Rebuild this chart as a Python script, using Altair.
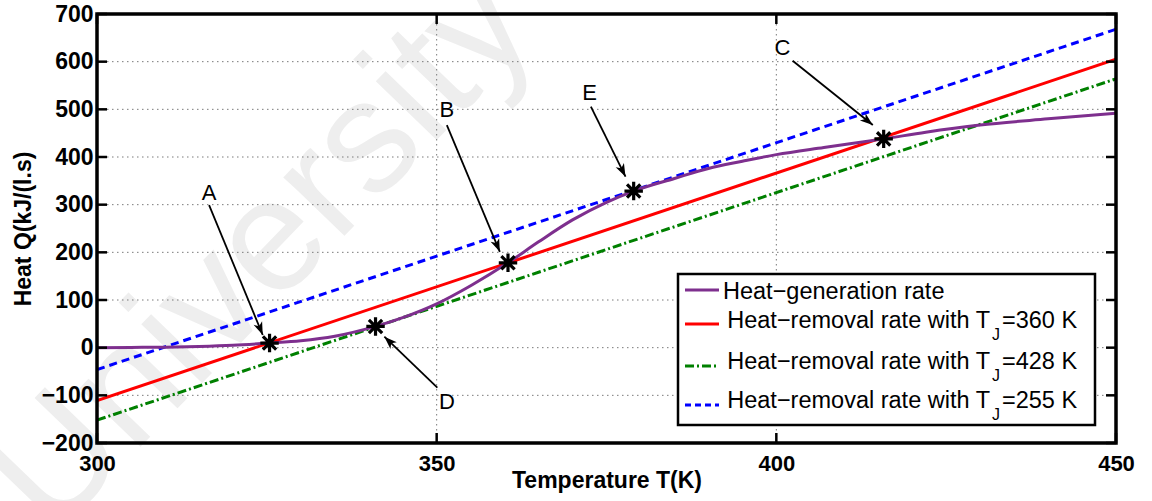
import math
import altair as alt
import pandas as pd

# ---------------- data ----------------
x_ticks = [300, 350, 400, 450]
y_ticks = [-200, -100, 0, 100, 200, 300, 400, 500, 600, 700]

# heat-generation curve (purple)
T_gen = [300, 305, 310, 315, 320, 325.4, 330, 335, 341, 345, 350, 355, 360.5,
         365, 370, 375, 379, 385, 390, 395, 400, 407, 415.8, 422, 430, 440, 450]
Q_gen = [0, 0.5, 1, 2.5, 5, 9.7, 14.5, 24, 44.6, 63, 92, 130, 178,
         222, 268, 305, 328.5, 355, 376, 391, 405, 420, 438, 452, 467, 480, 492]

# heat-removal lines (end points at T=300 and T=450)
T_line = [300, 450]
Q_red = [-111, 605]     # TJ = 360 K
Q_green = [-152, 564]   # TJ = 428 K
Q_blue = [-46, 668]     # TJ = 255 K

# steady states (asterisks)
star_T = [325.4, 360.5, 415.8, 341, 379]
star_Q = [9.7, 178, 438, 44.6, 328.5]

# annotation letters and arrows
lab_text = ["A", "B", "C", "D", "E"]
lab_T = [316.5, 351.5, 400.9, 351.5, 372.5]
lab_Q = [325, 498, 628, -113, 534]
arr_T1 = [316.5, 351.5, 402.4, 350.1, 372.7]
arr_Q1 = [299, 467, 602, -84, 505.5]
arr_T2 = [324.4, 359.3, 414.2, 342.3, 377.8]
arr_Q2 = [26.6, 201, 467, 23, 358.7]

legend_main = ["Heat\u2212generation rate",
               "Heat\u2212removal rate with T",
               "Heat\u2212removal rate with T",
               "Heat\u2212removal rate with T"]
legend_sub = ["", "J", "J", "J"]
legend_tail = ["", "=360 K", "=428 K", "=255 K"]

# ---------------- layout / style ----------------
W, H = 1019, 429
FONT = "Liberation Sans, Arial, sans-serif"
PURPLE, RED, GREEN, BLUE = "#7E2F8E", "#FF0000", "#008000", "#0000FF"
GRID = "#7a7a7a"

xs = alt.Scale(domain=[300, 450], nice=False, zero=False)
ys = alt.Scale(domain=[-200, 700], nice=False, zero=False)

ax_x = alt.Axis(values=x_ticks, title="Temperature T(K)", grid=False,
                tickSize=0, domain=False, format="d", zindex=1,
                labelFont=FONT, labelFontSize=22, labelFontWeight="bold",
                labelColor="black", labelPadding=10, labelFlush=False,
                labelOverlap=False,
                titleFont=FONT, titleFontSize=23, titleFontWeight="bold",
                titleColor="black", titleBaseline="alphabetic", titleY=44)
ax_y = alt.Axis(values=y_ticks, title="Heat Q(kJ/(l.s)", grid=False,
                tickSize=0, domain=False, format="d", zindex=1,
                labelFont=FONT, labelFontSize=23, labelFontWeight="bold",
                labelColor="black", labelPadding=4, labelFlush=False,
                labelOverlap=False,
                titleFont=FONT, titleFontSize=23, titleFontWeight="bold",
                titleColor="black", titleBaseline="alphabetic",
                titleAngle=270, titleX=-67)

X = lambda f: alt.X(f, type="quantitative", scale=xs, axis=ax_x)
Y = lambda f: alt.Y(f, type="quantitative", scale=ys, axis=ax_y)

one = alt.Data(values=[{"k": 0}])


def vtext(txt, x, y, size, align="left", weight="normal", color="black"):
    return alt.Chart(one).mark_text(
        text=txt, align=align, baseline="alphabetic", fontSize=size,
        font=FONT, color=color, fontWeight=weight
    ).encode(x=alt.value(x), y=alt.value(y))


layers = []

# watermark (behind everything)
layers.append(
    alt.Chart(one).mark_text(text="University", align="center", baseline="middle",
                             fontSize=160, font=FONT, color="#eeeeee",
                             angle=314, clip=False)
    .encode(x=alt.value(165), y=alt.value(238))
)

# dotted grid
yt = pd.DataFrame({"Q": y_ticks})
xt = pd.DataFrame({"T": x_ticks})
layers.append(alt.Chart(yt).mark_rule(color=GRID, strokeWidth=1, strokeDash=[1.5, 3.5])
              .encode(y=Y("Q"), x=alt.value(0), x2=alt.value(W)))
layers.append(alt.Chart(xt).mark_rule(color=GRID, strokeWidth=1, strokeDash=[1.5, 3.5])
              .encode(x=X("T"), y=alt.value(0), y2=alt.value(H)))

# heat-removal lines
for q, col, dash in [(Q_green, GREEN, [9, 3, 2, 3]),
                     (Q_blue, BLUE, [8, 5]),
                     (Q_red, RED, None)]:
    d = pd.DataFrame({"T": T_line, "Q": q})
    kw = dict(color=col, strokeWidth=3, clip=True)
    if dash:
        kw["strokeDash"] = dash
    layers.append(alt.Chart(d).mark_line(**kw).encode(x=X("T"), y=Y("Q")))

# heat-generation curve
gen = pd.DataFrame({"T": T_gen, "Q": Q_gen})
layers.append(alt.Chart(gen).mark_line(color=PURPLE, strokeWidth=3,
                                       interpolate="monotone", clip=True)
              .encode(x=X("T"), y=Y("Q")))

# asterisks
STAR = "M-1,0L1,0M0,-1L0,1M-0.72,-0.72L0.72,0.72M-0.72,0.72L0.72,-0.72"
stars = pd.DataFrame({"T": star_T, "Q": star_Q})
layers.append(alt.Chart(stars).mark_point(shape=STAR, filled=False, color="black",
                                          strokeWidth=3.2, size=340, opacity=1)
              .encode(x=X("T"), y=Y("Q")))

# arrows
sx, sy = W / 150.0, H / 900.0
arr = pd.DataFrame({"T": arr_T1, "Q": arr_Q1, "T2": arr_T2, "Q2": arr_Q2})
arr["ang"] = [
    (math.degrees(math.atan2((t2 - t1) * sx, (q2 - q1) * sy)) + 360) % 360
    for t1, q1, t2, q2 in zip(arr_T1, arr_Q1, arr_T2, arr_Q2)
]
layers.append(alt.Chart(arr).mark_rule(color="black", strokeWidth=1.8)
              .encode(x=X("T"), y=Y("Q"), x2="T2", y2="Q2"))
HEAD = "M0,0L-0.75,2.1L0,1.55L0.75,2.1Z"
layers.append(alt.Chart(arr).mark_point(shape=HEAD, filled=True, color="black",
                                        strokeWidth=0.5, size=150, opacity=1)
              .encode(x=X("T2"), y=Y("Q2"), angle=alt.Angle("ang:Q", scale=None)))

# letters
labs = pd.DataFrame({"T": lab_T, "Q": lab_Q, "txt": lab_text})
layers.append(alt.Chart(labs).mark_text(font=FONT, fontSize=22, color="black",
                                        baseline="middle", align="center")
              .encode(x=X("T"), y=Y("Q"), text="txt:N"))

# legend (drawn by hand to allow the subscript J)
layers.append(alt.Chart(one).mark_rect(fill="white", stroke="black", strokeWidth=2.5)
              .encode(x=alt.value(581), x2=alt.value(998), y=alt.value(260), y2=alt.value(411)))
row_line_y = [276, 310, 352, 391]
row_base_y = [285, 314, 355, 394]
styles = [(PURPLE, None), (RED, None), (GREEN, [9, 3, 2, 3]), (BLUE, [6, 4])]
for i in range(4):
    col, dash = styles[i]
    kw = dict(color=col, strokeWidth=3)
    if dash:
        kw["strokeDash"] = dash
    layers.append(alt.Chart(one).mark_rule(**kw)
                  .encode(x=alt.value(588), x2=alt.value(622), y=alt.value(row_line_y[i])))
    if legend_sub[i]:
        layers.append(vtext(legend_main[i], 893, row_base_y[i], 23.5, align="right"))
        layers.append(vtext(legend_sub[i], 895, row_base_y[i] + 12, 16))
        layers.append(vtext(legend_tail[i], 905, row_base_y[i], 23.5))
    else:
        layers.append(vtext(legend_main[i], 626, row_base_y[i], 23.5))

# inward ticks on all four sides
TL = 10
layers.append(alt.Chart(yt).mark_rule(color="black", strokeWidth=2.5)
              .encode(y=Y("Q"), x=alt.value(0), x2=alt.value(TL)))
layers.append(alt.Chart(yt).mark_rule(color="black", strokeWidth=2.5)
              .encode(y=Y("Q"), x=alt.value(W - TL), x2=alt.value(W)))
layers.append(alt.Chart(xt).mark_rule(color="black", strokeWidth=2.5)
              .encode(x=X("T"), y=alt.value(H), y2=alt.value(H - TL)))
layers.append(alt.Chart(xt).mark_rule(color="black", strokeWidth=2.5)
              .encode(x=X("T"), y=alt.value(0), y2=alt.value(TL)))

# frame
layers.append(alt.Chart(one).mark_rect(fill=None, fillOpacity=0, stroke="black", strokeWidth=3.5)
              .encode(x=alt.value(0), x2=alt.value(W), y=alt.value(0), y2=alt.value(H)))

chart = alt.layer(*layers).properties(
    width=W, height=H,
    autosize=alt.AutoSizeParams(type="none"),
    padding={"left": 97, "top": 14, "right": 36, "bottom": 58},
    background="white",
).configure_view(stroke=None)

chart.save("out.html", embed_options={"renderer": "svg", "actions": False})
